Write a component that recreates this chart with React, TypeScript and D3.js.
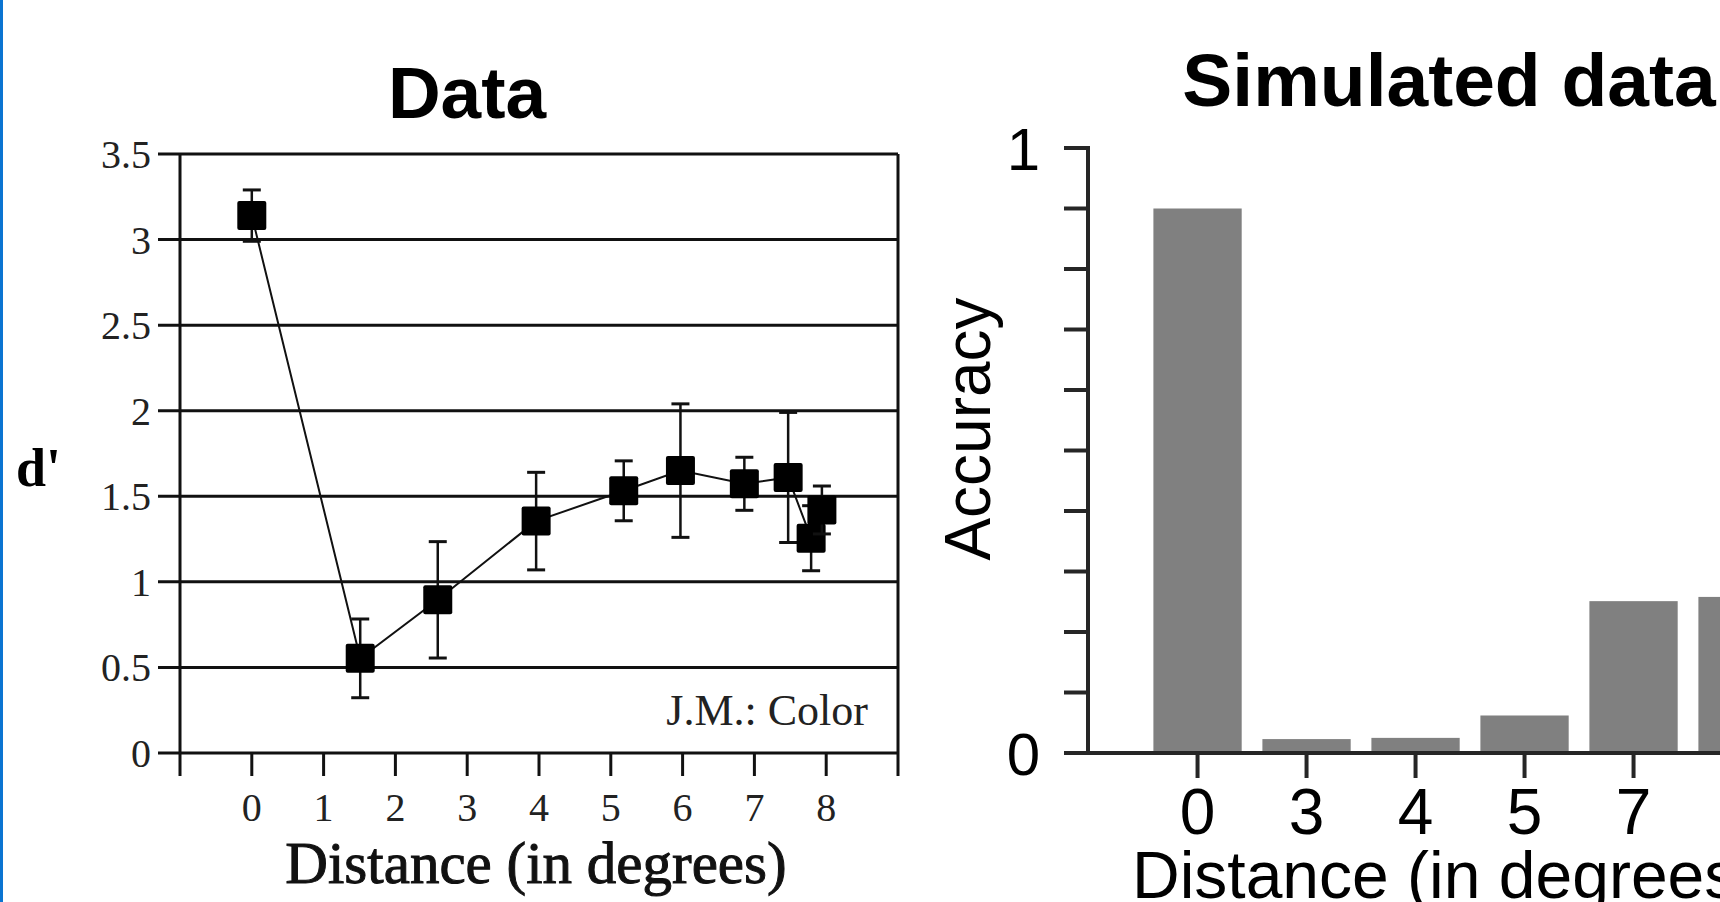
import * as d3 from 'd3'

// left panel: measured d' per distance
const distances = [0, 1.51, 2.59, 3.96, 5.18, 5.97, 6.86, 7.47, 7.79, 7.94]
const dPrime = [3.14, 0.553, 0.895, 1.355, 1.532, 1.65, 1.573, 1.61, 1.255, 1.42]
const dPrimeErr = [0.15, 0.23, 0.34, 0.285, 0.175, 0.39, 0.155, 0.38, 0.19, 0.14]
const leftYTicks = [0, 0.5, 1, 1.5, 2, 2.5, 3, 3.5]
const leftXTicks = [0, 1, 2, 3, 4, 5, 6, 7, 8]

// right panel: simulated accuracy
const simCategories = ['0', '3', '4', '5', '7', '8']
const simAccuracy = [0.9, 0.023, 0.025, 0.062, 0.251, 0.258]
const rightYTicks = d3.range(0, 11).map((i) => i / 10)

const serif = '"Liberation Serif", "DejaVu Serif", serif'
const sans = '"Liberation Sans", Arial, sans-serif'

function DataPanel() {
    const x = d3.scaleLinear().domain([-1, 9]).range([180, 898])
    const y = d3.scaleLinear().domain([0, 3.5]).range([753, 154])

    const line = d3
        .line<number>()
        .x((d, i) => x(distances[i]))
        .y((d) => y(d))

    const sq = 29
    const cap = 9

    return (
        <g>
            <text x={467} y={118} textAnchor="middle" fontFamily={sans} fontWeight="bold" fontSize={73}>
                Data
            </text>
            {leftYTicks.map((t) => (
                <g key={t}>
                    <line x1={158} x2={898} y1={y(t)} y2={y(t)} stroke="#111" strokeWidth={3} />
                    <text
                        x={151}
                        y={y(t)}
                        dy="0.35em"
                        textAnchor="end"
                        fontFamily={serif}
                        fontSize={40}
                        fill="#222"
                    >
                        {t}
                    </text>
                </g>
            ))}
            {/* frame sides, running down as end ticks */}
            <line x1={x(-1)} x2={x(-1)} y1={y(3.5)} y2={776} stroke="#111" strokeWidth={3} />
            <line x1={x(9)} x2={x(9)} y1={y(3.5)} y2={776} stroke="#111" strokeWidth={3} />
            {leftXTicks.map((t) => (
                <g key={t}>
                    <line x1={x(t)} x2={x(t)} y1={y(0)} y2={776} stroke="#111" strokeWidth={3} />
                    <text x={x(t)} y={821} textAnchor="middle" fontFamily={serif} fontSize={40} fill="#222">
                        {t}
                    </text>
                </g>
            ))}
            <path d={line(dPrime) || ''} fill="none" stroke="#111" strokeWidth={2} />
            {dPrime.map((v, i) => (
                <g key={i}>
                    <line
                        x1={x(distances[i])}
                        x2={x(distances[i])}
                        y1={y(v + dPrimeErr[i])}
                        y2={y(v - dPrimeErr[i])}
                        stroke="#111"
                        strokeWidth={2.5}
                    />
                    <line
                        x1={x(distances[i]) - cap}
                        x2={x(distances[i]) + cap}
                        y1={y(v + dPrimeErr[i])}
                        y2={y(v + dPrimeErr[i])}
                        stroke="#111"
                        strokeWidth={3}
                    />
                    <line
                        x1={x(distances[i]) - cap}
                        x2={x(distances[i]) + cap}
                        y1={y(v - dPrimeErr[i])}
                        y2={y(v - dPrimeErr[i])}
                        stroke="#111"
                        strokeWidth={3}
                    />
                    <rect x={x(distances[i]) - sq / 2} y={y(v) - sq / 2} width={sq} height={sq} fill="#000" rx={2} />
                </g>
            ))}
            <text x={868} y={725} textAnchor="end" fontFamily={serif} fontSize={44} fill="#222">
                J.M.: Color
            </text>
            <text x={16} y={486} fontFamily={serif} fontWeight="bold" fontSize={54}>
                d'
            </text>
            <text x={536} y={883} textAnchor="middle" fontFamily={serif} fontSize={59} fill="#111" stroke="#111" strokeWidth={1}>
                Distance (in degrees)
            </text>
        </g>
    )
}

function SimPanel() {
    const x = d3
        .scaleBand()
        .domain(simCategories)
        .range([1088, 1088 + 109 * (simCategories.length - 0.19 + 1.2)])
        .paddingInner(0.19)
        .paddingOuter(0.6)
    const y = d3.scaleLinear().domain([0, 1]).range([753, 148])
    const axisColor = '#262626'

    return (
        <g>
            <text x={1449} y={106} textAnchor="middle" fontFamily={sans} fontWeight="bold" fontSize={75}>
                Simulated data
            </text>
            {simCategories.map((c, i) => (
                <rect
                    key={c}
                    x={x(c)}
                    y={y(simAccuracy[i])}
                    width={x.bandwidth()}
                    height={y(0) - y(simAccuracy[i])}
                    fill="#808080"
                />
            ))}
            <line x1={1088} x2={1088} y1={y(1) - 2} y2={y(0) + 2} stroke={axisColor} strokeWidth={4} />
            {rightYTicks.map((t) => (
                <line key={t} x1={1064} x2={1088} y1={y(t)} y2={y(t)} stroke={axisColor} strokeWidth={4} />
            ))}
            <line x1={1064} x2={1720} y1={y(0)} y2={y(0)} stroke={axisColor} strokeWidth={4} />
            {[0, 1].map((t) => (
                <text key={t} x={1040} y={y(t)} dy="0.36em" textAnchor="end" fontFamily={sans} fontSize={60}>
                    {t}
                </text>
            ))}
            {simCategories.map((c) => (
                <g key={c}>
                    <line
                        x1={(x(c) || 0) + x.bandwidth() / 2}
                        x2={(x(c) || 0) + x.bandwidth() / 2}
                        y1={y(0)}
                        y2={778}
                        stroke={axisColor}
                        strokeWidth={4}
                    />
                    <text
                        x={(x(c) || 0) + x.bandwidth() / 2}
                        y={834}
                        textAnchor="middle"
                        fontFamily={sans}
                        fontSize={64}
                    >
                        {c}
                    </text>
                </g>
            ))}
            <text
                transform="translate(990, 429) rotate(-90)"
                textAnchor="middle"
                fontFamily={sans}
                fontSize={64}
            >
                Accuracy
            </text>
            <text x={1132} y={898} fontFamily={sans} fontSize={66}>
                Distance (in degrees)
            </text>
        </g>
    )
}

export default function App() {
    return (
        <svg
            width={1720}
            height={902}
            style={{ position: 'absolute', left: 0, top: 0, background: '#fff' }}
        >
            <rect x={0} y={0} width={3} height={902} fill="#0a74d1" />
            <DataPanel />
            <SimPanel />
        </svg>
    )
}
